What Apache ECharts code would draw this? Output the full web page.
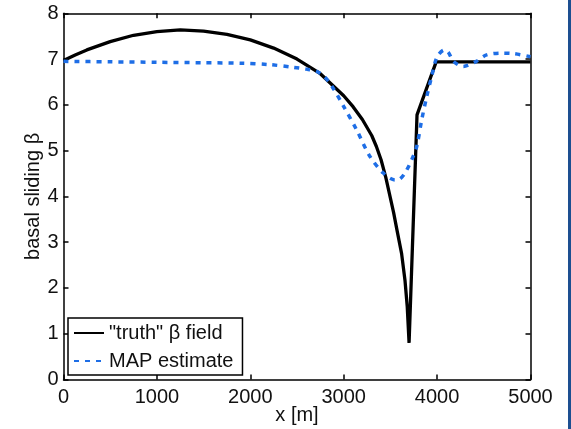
<!DOCTYPE html>
<html>
<head>
<meta charset="utf-8">
<script src="https://cdn.jsdelivr.net/npm/echarts@6/dist/echarts.min.js"></script>
<style>
html,body{margin:0;padding:0;background:#fff;}
#c{width:571px;height:429px;}
</style>
</head>
<body>
<div id="c"></div>
<script>
// "truth" beta field
var truthX = [0, 125, 250, 500, 750, 1000, 1250, 1500, 1750, 2000, 2250, 2500, 2750, 3000, 3100, 3200, 3300, 3350, 3400, 3450, 3500, 3535, 3570, 3620, 3656, 3680, 3700, 3785, 3990, 5000];
var truthY = [6.97, 7.09, 7.2, 7.38, 7.52, 7.6, 7.64, 7.61, 7.54, 7.42, 7.24, 7.0, 6.68, 6.2, 5.96, 5.68, 5.33, 5.09, 4.8, 4.42, 3.96, 3.64, 3.27, 2.75, 2.17, 1.6, 0.8, 5.78, 6.94, 6.94];
// MAP estimate
var mapX = [0, 500, 1000, 1500, 1900, 2200, 2460, 2600, 2711, 2800, 2870, 2996, 3139, 3282, 3424, 3549, 3600, 3656, 3728, 3782, 3835, 3889, 3942, 4000, 4080, 4120, 4175, 4280, 4420, 4530, 4680, 4820, 5000];
var mapY = [6.95, 6.94, 6.93, 6.92, 6.91, 6.88, 6.82, 6.78, 6.73, 6.6, 6.42, 5.98, 5.45, 4.87, 4.51, 4.36, 4.38, 4.51, 4.8, 5.09, 5.67, 6.18, 6.62, 7.05, 7.2, 7.15, 6.95, 6.84, 6.95, 7.09, 7.13, 7.12, 7.05];
var xTicks = [0, 1000, 2000, 3000, 4000, 5000];
var yTicks = [0, 1, 2, 3, 4, 5, 6, 7, 8];
var seriesNames = ['"truth" β field', 'MAP estimate'];
var xName = 'x [m]';
var yName = 'basal sliding β';

function pairs(xs, ys){ return xs.map(function(x,i){ return [x, ys[i]]; }); }

var FONT = 'Liberation Sans, Arial, sans-serif';
var axisLineStyle = {color:'#000', width:1.5};
function xAx(pos, labels){
  return {
    type:'value', position:pos, min:xTicks[0], max:xTicks[xTicks.length-1], interval:1000,
    axisLine:{show:true, onZero:false, lineStyle:axisLineStyle},
    axisTick:{show:true, inside:true, length:5, lineStyle:axisLineStyle},
    axisLabel:{show:labels, margin:8, fontSize:20, color:'#111', fontFamily:FONT,
      formatter:function(v){ return String(v); }},
    splitLine:{show:false},
    name: labels ? xName : '', nameLocation:'middle', nameGap:26, nameMoveOverlap:false,
    nameTextStyle:{fontSize:20, color:'#111', fontFamily:FONT}
  };
}
function yAx(pos, labels){
  return {
    type:'value', position:pos, min:yTicks[0], max:yTicks[yTicks.length-1], interval:1,
    axisLine:{show:true, onZero:false, lineStyle:axisLineStyle},
    axisTick:{show:true, inside:true, length:5, lineStyle:axisLineStyle},
    axisLabel:{show:labels, margin:5, fontSize:20, color:'#111', fontFamily:FONT},
    splitLine:{show:false},
    name: labels ? yName : '', nameLocation:'middle', nameGap:20, nameRotate:90, nameMoveOverlap:false,
    nameTextStyle:{fontSize:20, color:'#111', fontFamily:FONT}
  };
}

var chart = echarts.init(document.getElementById('c'), null, {renderer:'canvas'});
chart.setOption({
  animation:false,
  backgroundColor:'#ffffff',
  grid:{left:63.5, right:40.5, top:13.3, bottom:49.5, containLabel:false, outerBoundsMode:'none'},
  xAxis:[xAx('bottom', true), xAx('top', false)],
  yAxis:[yAx('left', true), yAx('right', false)],
  legend:{
    data:seriesNames, orient:'vertical', left:68, top:318,
    padding:[5,9,4,5], itemGap:8, itemWidth:30, itemHeight:14,
    itemStyle:{opacity:0},
    backgroundColor:'#fff', borderColor:'#000', borderWidth:1.5, borderRadius:0,
    textStyle:{fontSize:20, color:'#111', fontFamily:FONT}
  },
  graphic:[{type:'rect', shape:{x:568, y:0, width:3, height:429}, style:{fill:'#1d4f91'}, silent:true}],
  series:[
    {name:seriesNames[0], type:'line', data:pairs(truthX, truthY), symbol:'none', smooth:false,
     lineStyle:{color:'#000', width:3.3}, itemStyle:{color:'#000'}, z:2},
    {name:seriesNames[1], type:'line', data:pairs(mapX, mapY), symbol:'none', smooth:0.3,
     lineStyle:{color:'#1e6ee6', width:3.5, type:[5,6]}, itemStyle:{color:'#1e6ee6'}, z:3}
  ]
});
</script>
</body>
</html>
